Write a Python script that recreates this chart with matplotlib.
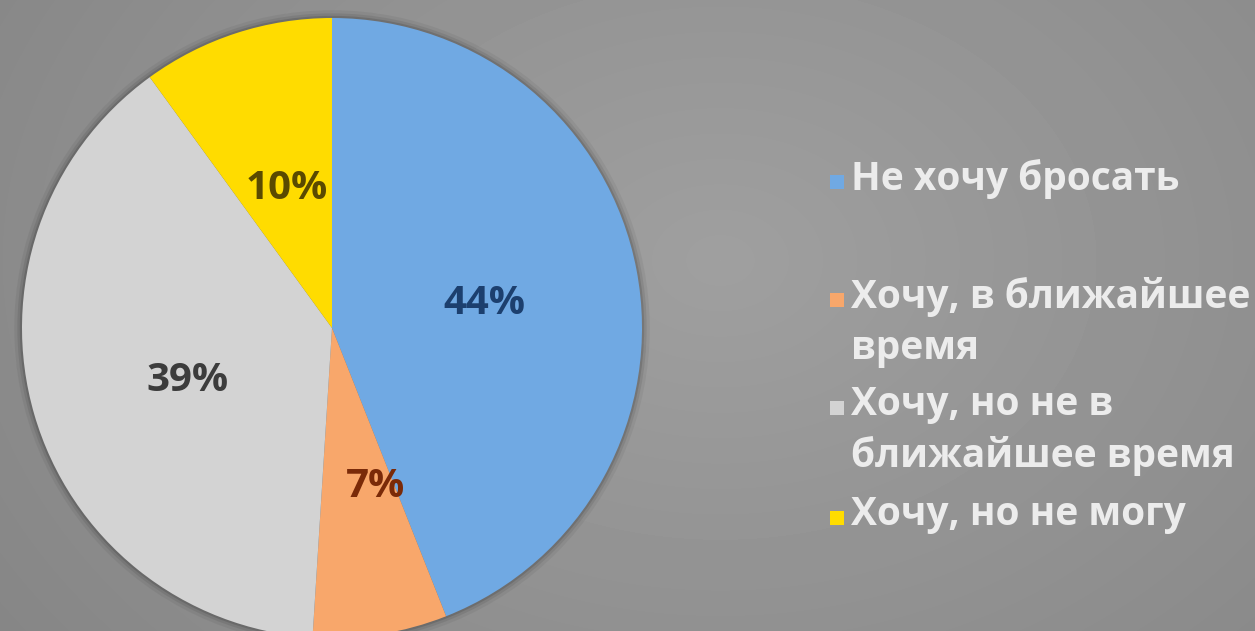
import numpy as np
import matplotlib.pyplot as plt
from matplotlib.patches import Rectangle, Circle

# chart data
categories = ["Не хочу бросать", "Хочу, в ближайшее\nвремя",
              "Хочу, но не в\nближайшее время", "Хочу, но не могу"]
shares = [44, 7, 39, 10]
slice_colors = ["#70a9e3", "#f8a76b", "#d3d3d3", "#ffdc00"]
label_colors = ["#1c3f6e", "#7a2a08", "#3c3c3c", "#5a4a00"]

W, H = 1255, 631
fig = plt.figure(figsize=(W / 100, H / 100), dpi=100)

# grey radial background
bg = fig.add_axes([0, 0, 1, 1])
yy, xx = np.mgrid[0:H, 0:W]
d = np.sqrt(((xx - 720) / 700.0) ** 2 + ((yy - 260) / 520.0) ** 2)
shade = np.clip(0.625 - 0.08 * d, 0.52, 0.63)
bg.imshow(shade, cmap="gray", vmin=0, vmax=1, extent=[0, W, H, 0], aspect="auto")
bg.axis("off")

# pie: centre (332, 328) px, radius 310 px
cx, cy, r = 332, 328, 310
ax = fig.add_axes([(cx - r) / W, (H - cy - r) / H, 2 * r / W, 2 * r / H])

# soft shadow ring around the pie
for k, a in [(1.025, 0.05), (1.015, 0.08), (1.007, 0.12)]:
    ax.add_patch(Circle((0, 0), k, facecolor="black", alpha=a, edgecolor="none",
                        clip_on=False, zorder=0))

wedges, texts, autotexts = ax.pie(
    shares, colors=slice_colors, startangle=90, counterclock=False,
    autopct=lambda p: f"{p:.0f}%", pctdistance=0.5, radius=1,
    wedgeprops=dict(linewidth=0),
    textprops=dict(fontsize=29, fontweight="bold", family="Open Sans"))

# label positions in pie units (px offsets from the centre / radius)
label_pos = [(0.49, 0.08), (0.14, -0.51), (-0.465, -0.17), (-0.145, 0.45)]
for t, c, p in zip(autotexts, label_colors, label_pos):
    t.set_color(c)
    t.set_position(p)
ax.set_xlim(-1, 1)
ax.set_ylim(-1, 1)
ax.axis("off")
for w in wedges:
    w.set_clip_on(False)

# legend drawn by hand so the swatch sits on the first text line
line_y = [182, 300, 408, 518]
for name, col, y in zip(categories, slice_colors, line_y):
    fig.patches.append(Rectangle((830 / W, (H - y - 7) / H), 14 / W, 14 / H,
                                 transform=fig.transFigure, facecolor=col,
                                 edgecolor="none"))
    fig.text(851 / W, (H - y + 23) / H, name, fontsize=28, fontweight="bold",
             family="Open Sans", color="#ececec", va="top", ha="left",
             linespacing=1.4)

fig.savefig("out.png", dpi=100)
